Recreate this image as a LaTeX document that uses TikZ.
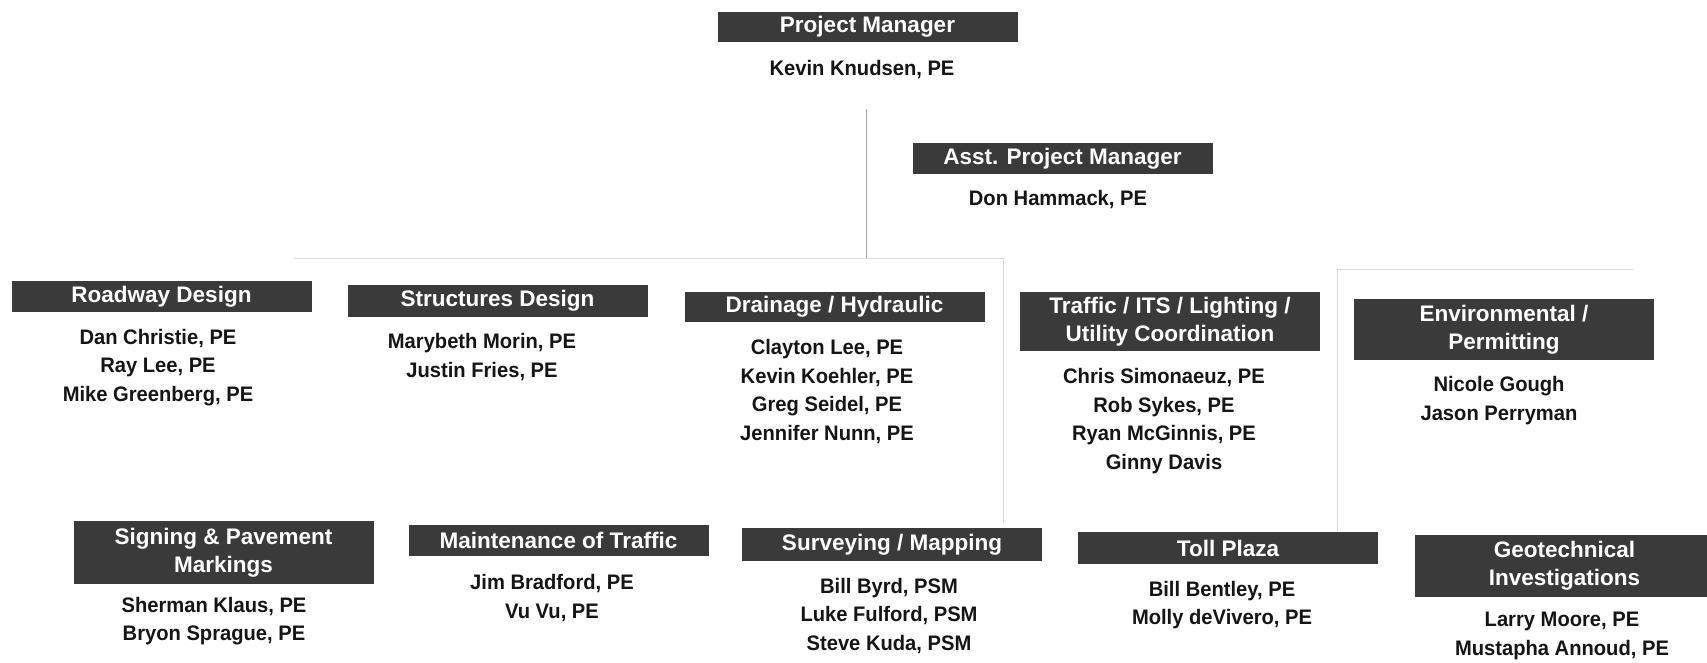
\documentclass[tikz,border=0pt]{standalone}
\usepackage{fontspec}
\setmainfont{Liberation Sans}
\newfontfamily\namefont[FakeStretch=0.96]{Liberation Sans}
\definecolor{hdr}{HTML}{3A3A3A}
\definecolor{txt}{HTML}{151515}
\definecolor{faint}{HTML}{DADADA}
\begin{document}
\begin{tikzpicture}[x=1pt,y=-1pt,
  head/.style={fill=hdr, text=white, inner sep=0pt, minimum width=300pt, align=center,
    font=\bfseries\fontsize{22.5}{28}\selectfont},
  people/.style={text=txt, inner sep=0pt, align=center,
    font=\namefont\bfseries\fontsize{21}{28.5}\selectfont},
  conn/.style={draw=gray!70, line width=0.8pt},
  faintline/.style={draw=faint, line width=0.7pt}]
\clip (0,0) rectangle (1707,662);
\fill[white] (0,0) rectangle (1707,662);

% top
\node[head, minimum height=30pt] (pm) at (867.5,27) {Project Manager};
\node[people] (pmn) at (862,70) {Kevin Knudsen, PE};
\node[head, minimum height=31pt] (apm) at (1062.5,158.5) {Asst. Project Manager};
\node[people] (apmn) at (1058,200) {Don Hammack, PE};

% row 1
\node[head, minimum height=31pt] (road) at (161.5,296.5) {Roadway Design};
\node[people] (roadn) at (158,367.5) {Dan Christie, PE\\Ray Lee, PE\\Mike Greenberg, PE};
\node[head, minimum height=32pt] (struct) at (497.5,301) {Structures Design};
\node[people] (structn) at (482,357) {Marybeth Morin, PE\\Justin Fries, PE};
\node[head, minimum height=30pt] (drain) at (834.5,307) {Drainage / Hydraulic};
\node[people] (drainn) at (827,391.5) {Clayton Lee, PE\\Kevin Koehler, PE\\Greg Seidel, PE\\Jennifer Nunn, PE};
\node[head, minimum height=59pt] (traffic) at (1170,321.5) {Traffic / ITS / Lighting /\\Utility Coordination};
\node[people] (trafficn) at (1164,421) {Chris Simonaeuz, PE\\Rob Sykes, PE\\Ryan McGinnis, PE\\Ginny Davis};
\node[head, minimum height=61pt] (env) at (1504,329.5) {Environmental /\\Permitting};
\node[people] (envn) at (1499,400.5) {Nicole Gough\\Jason Perryman};

% row 2
\node[head, minimum height=63pt] (sign) at (223.5,552.5) {Signing \& Pavement\\Markings};
\node[people] (signn) at (214,621) {Sherman Klaus, PE\\Bryon Sprague, PE};
\node[head, minimum height=31pt] (mot) at (558.5,540.5) {Maintenance of Traffic};
\node[people] (motn) at (552,598) {Jim Bradford, PE\\Vu Vu, PE};
\node[head, minimum height=33pt] (surv) at (892,544.5) {Surveying / Mapping};
\node[people] (survn) at (889,616) {Bill Byrd, PSM\\Luke Fulford, PSM\\Steve Kuda, PSM};
\node[head, minimum height=32pt] (toll) at (1228,548) {Toll Plaza};
\node[people] (tolln) at (1222,605) {Bill Bentley, PE\\Molly deVivero, PE};
\node[head, minimum height=62pt] (geo) at (1564.5,566) {Geotechnical\\Investigations};
\node[people] (geon) at (1562,636) {Larry Moore, PE\\Mustapha Annoud, PE};

% connectors
\coordinate (vtop) at (866,109);
\coordinate (hmid) at (866,258);
\coordinate (hleft) at (294,258);
\coordinate (hdiv) at (1003,258);
\coordinate (hdivb) at (1003,523);
\coordinate (rtop) at (1337,269);
\coordinate (rbot) at (1337,531);
\coordinate (rend) at (1633,269);
\draw[faintline] (hleft) -- (hdiv);
\draw[faintline] (rtop) -- (rend);
\draw[faintline] (hdiv) -- (hdivb);
\draw[faintline] (rtop) -- (rbot);
\draw[conn] (vtop) -- (hmid);
\end{tikzpicture}
\end{document}
